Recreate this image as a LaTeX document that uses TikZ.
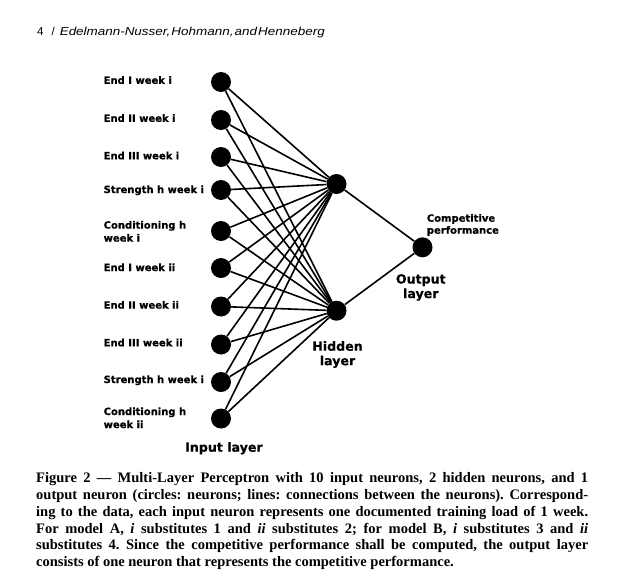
\documentclass[tikz,border=0pt]{standalone}
\usepackage{fontspec}
\usepackage{graphicx}
\setmainfont{Liberation Serif}
\newfontfamily\labfont[FakeBold=0.6]{DejaVu Sans Bold}
\newfontfamily\headfont{Liberation Sans}
\tikzset{
  neuron/.style={circle,fill=black,inner sep=0pt,minimum size=20pt},
  conn/.style={line width=1.6pt},
  lbl/.style={font=\labfont\fontsize{10}{13}\selectfont,anchor=base west,align=left,inner sep=0pt},
  layerlbl/.style={font=\labfont\fontsize{12.6}{14.5}\selectfont,anchor=base,align=center,inner sep=0pt},
  outlbl/.style={font=\labfont\fontsize{10}{12}\selectfont,anchor=base west,align=left,inner sep=0pt},
  captxt/.style={font=\bfseries\fontsize{14.5}{16.8}\selectfont\frenchspacing,anchor=base west,align=left,inner sep=0pt},
  headtxt/.style={font=\headfont\fontsize{11.5}{13}\selectfont,anchor=base west,inner sep=0pt}
}
\newlength{\capw}
\setlength{\capw}{552pt}
\begin{document}
\begin{tikzpicture}[x=1pt,y=-1pt]
\useasboundingbox[fill=white] (0,0) rectangle (624,584);
% header
\node[headtxt] (head) at (37,35) {4\hspace{8pt}/\hspace{5pt}\resizebox{265pt}{\height}{\itshape Edelmann-Nusser,\hspace{1pt}Hohmann,\hspace{1pt}and\hspace{1pt}Henneberg}};
% neurons
\foreach \i/\y in {1/82,2/120,3/157,4/190,5/231,6/268,7/306.5,8/344.5,9/382,10/418.5}
  \node[neuron] (in\i) at (221,\y) {};
\node[neuron] (h1) at (336.5,184) {};
\node[neuron] (h2) at (336.5,310.7) {};
\node[neuron] (out) at (422.5,247.3) {};
% connections
\foreach \i in {1,...,10} {
  \draw[conn] (in\i) -- (h1);
  \draw[conn] (in\i) -- (h2);
}
\draw[conn] (h1) -- (out);
\draw[conn] (h2) -- (out);
% input labels (base anchor = baseline of last line)
\node[lbl] (l1) at (103.5,83.8) {End I week i};
\node[lbl] (l2) at (103.5,121.8) {End II week i};
\node[lbl] (l3) at (103.5,159.3) {End III week i};
\node[lbl] (l4) at (103.5,193) {Strength h week i};
\node[lbl] (l5) at (103.5,241.6) {Conditioning h\\week i};
\node[lbl] (l6) at (103.5,271) {End I week ii};
\node[lbl] (l7) at (103.5,308.6) {End II week ii};
\node[lbl] (l8) at (103.5,346.3) {End III week ii};
\node[lbl] (l9) at (103.5,383) {Strength h week i};
\node[lbl] (l10) at (103.5,428) {Conditioning h\\week ii};
% layer labels
\node[layerlbl,anchor=base west] (inlayer) at (185,451.7) {Input layer};
\node[layerlbl] (hidlayer) at (337.5,365.2) {Hidden\\layer};
\node[layerlbl] (outlayer) at (420.8,298) {Output\\layer};
\node[outlbl] (comp) at (426.7,233.7) {Competitive\\performance};
% caption
\node[captxt] (cap) at (36,566.7) {%
\makebox[\capw][s]{Figure 2 --- Multi-Layer Perceptron with 10 input neurons, 2 hidden neurons, and 1}\\
\makebox[\capw][s]{output neuron (circles: neurons; lines: connections between the neurons). Correspond-}\\
\makebox[\capw][s]{ing to the data, each input neuron represents one documented training load of 1 week.}\\
\makebox[\capw][s]{For model A, \textit{i} substitutes 1 and \textit{ii} substitutes 2; for model B, \textit{i} substitutes 3 and \textit{ii}}\\
\makebox[\capw][s]{substitutes 4. Since the competitive performance shall be computed, the output layer}\\
consists of one neuron that represents the competitive performance.};
\end{tikzpicture}
\end{document}
